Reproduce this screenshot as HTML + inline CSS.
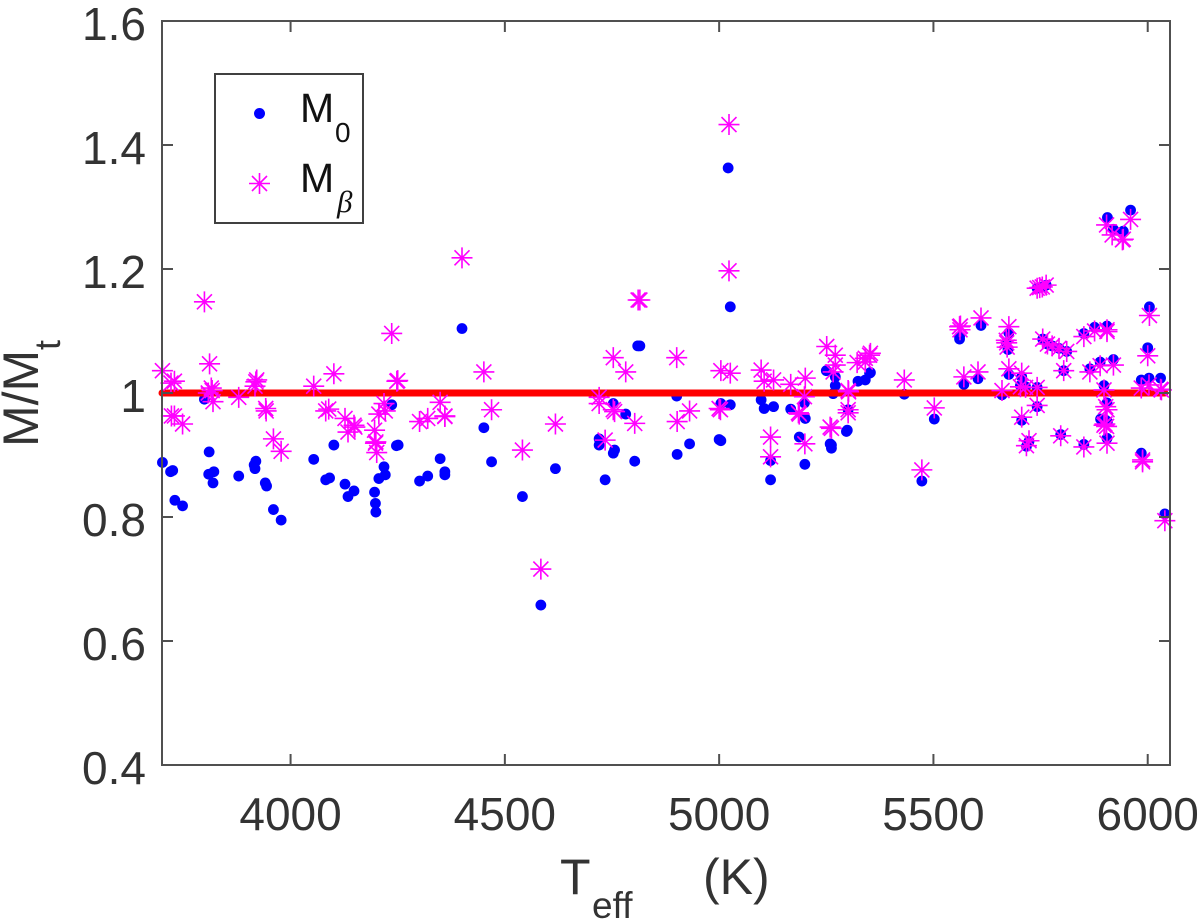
<!DOCTYPE html>
<html>
<head>
<meta charset="utf-8">
<title>M/Mt vs Teff</title>
<style>
html,body{margin:0;padding:0;background:#fff;width:1200px;height:922px;overflow:hidden}
svg{display:block}
text{font-family:"Liberation Sans",sans-serif}
</style>
</head>
<body>
<svg id="chart" width="1200" height="922" viewBox="0 0 1200 922" xmlns="http://www.w3.org/2000/svg">
  <rect x="0" y="0" width="1200" height="922" fill="#fff"/>
  <g id="m0-layer"></g>
  <g id="line-layer"></g>
  <g id="mb-layer"></g>
  <g id="axes-layer"></g>
  <g fill="#333">
    <text transform="translate(38,447) rotate(-90)" font-size="50">M/M</text>
    <text transform="translate(60,350) rotate(-90)" font-size="36">t</text>
  </g>
  <g fill="#333">
    <text x="560" y="894" font-size="50">T</text>
    <text x="592" y="918" font-size="37">eff</text>
    <text x="703" y="894" font-size="50">(K)</text>
  </g>
  <g>
    <rect x="215" y="74" width="148" height="149" fill="#fff" stroke="#404040" stroke-width="2"/>
    <circle cx="259.500" cy="113.500" r="5.500" fill="#0000ff"/>
    <g id="legend-star"></g>
    <text x="300" y="122" font-size="41" fill="#111">M</text>
    <text x="335" y="142" font-size="28" fill="#111">0</text>
    <text x="300" y="192" font-size="41" fill="#111">M</text>
    <text x="337" y="212" font-size="31" fill="#111" style="font-family:'Liberation Serif',serif;font-style:italic">β</text>
  </g>
</svg>
<script>
const xTicks = [4000, 4500, 5000, 5500, 6000];
const yTicks = [0.4, 0.6, 0.8, 1.0, 1.2, 1.4, 1.6];
const yTickLabels = ['0.4', '0.6', '0.8', '1', '1.2', '1.4', '1.6'];
const xDomain = [3700, 6052];
const yDomain = [0.4, 1.6];
const lineT = [3700, 6040];
const lineM = [1, 1];

const m0T = [3701,3720,3725,3730,3748,3810,3809,3821,3819,3799,3879,3919,3917,3915,3941,3944,3960,3978,
4054,4101,4082,4091,4127,4134,4148,4196,4198,4199,4218,4221,4206,4236,4247,4251,4301,4320,4349,4360,4360,
4400,4451,4469,4541,4584,4618,4734,4720,4720,4753,4782,4753,4756,4803,4810,4815,4901,4902,4931,5021,5026,
5000,5004,5004,5026,5098,5105,5127,5167,5187,5201,5199,5200,5120,5120,5250,5262,5262,5259,5271,5271,5266,
5301,5299,5297,5324,5341,5353,5351,5432,5502,5473,5561,5561,5611,5571,5604,5676,5670,5674,5676,5660,5706,
5703,5715,5742,5742,5706,5723,5717,5797,5851,5905,5890,5902,5906,5905,5898,5865,5889,5920,5804,5755,5766,
5777,5793,5811,5742,5754,5763,5851,5876,5905,5906,5920,5943,5941,5960,6004,6000,5985,6003,6030,5985,6040];
const m0Val = [0.888,0.873,0.875,0.827,0.818,0.905,0.869,0.873,0.855,0.990,0.866,0.890,0.878,0.884,0.855,0.850,0.812,0.795,
0.893,0.916,0.860,0.863,0.853,0.833,0.842,0.840,0.822,0.808,0.881,0.868,0.862,0.981,0.915,0.916,0.858,0.866,0.894,0.873,0.868,
1.104,0.944,0.889,0.833,0.658,0.878,0.860,0.926,0.916,0.983,0.966,0.903,0.908,0.890,1.076,1.076,0.995,0.901,0.918,1.363,1.139,
0.925,0.923,0.983,0.981,0.989,0.975,0.978,0.974,0.929,0.959,0.984,0.885,0.891,0.860,1.036,0.916,0.911,0.918,1.026,1.012,0.999,
0.973,0.940,0.938,1.019,1.021,1.033,1.032,0.998,0.958,0.858,1.087,1.091,1.109,1.014,1.023,1.097,1.081,1.070,1.030,0.997,1.026,
1.012,1.010,1.009,0.978,0.956,0.922,0.914,0.933,0.917,0.927,0.958,0.956,0.954,0.984,1.012,1.039,1.050,1.054,1.036,1.087,1.079,
1.076,1.072,1.067,1.169,1.171,1.174,1.096,1.106,1.108,1.283,1.264,1.261,1.260,1.295,1.139,1.073,1.021,1.024,1.024,0.903,0.805];

const mbT = [3799,3701,3721,3729,3811,3815,3817,3819,3808,3729,3722,3748,3879,3919,3917,3921,3942,3943,3960,3978,
4054,4101,4082,4089,4127,4134,4148,4150,4196,4198,4199,4201,4218,4221,4206,4236,4248,4250,4301,4320,4349,4360,4360,
4400,4451,4469,4541,4584,4618,4734,4720,4720,4753,4782,4753,4756,4803,4811,4815,4901,4902,4931,5000,5003,5004,5023,
5023,5026,5098,5105,5127,5167,5187,5185,5201,5199,5200,5120,5120,5251,5259,5262,5271,5271,5266,5301,5302,5301,5301,
5322,5341,5341,5353,5351,5432,5502,5473,5561,5562,5563,5611,5571,5604,5676,5670,5671,5672,5676,5660,5706,5703,5715,
5742,5742,5706,5723,5717,5797,5851,5905,5898,5904,5900,5905,5902,5898,5865,5889,5920,5804,5755,5766,5777,5793,5811,
5742,5748,5754,5763,5851,5876,5905,5905,5904,5917,5941,5943,5960,6004,6000,5985,6003,6030,6032,5988,5988,6040];
const mbVal = [1.147,1.036,1.016,1.019,1.047,1.008,1.004,0.986,1.000,0.963,0.963,0.950,0.993,1.018,1.011,1.021,0.975,0.971,0.926,0.906,
1.011,1.031,0.971,0.974,0.959,0.937,0.948,0.945,0.940,0.919,0.921,0.904,0.983,0.971,0.966,1.096,1.019,1.020,0.954,0.959,0.985,0.963,0.962,
1.218,1.034,0.973,0.908,0.716,0.950,0.924,0.993,0.983,1.057,1.034,0.973,0.970,0.951,1.150,1.150,1.057,0.954,0.971,0.975,0.973,1.036,1.433,
1.197,1.032,1.037,1.019,1.021,1.014,0.966,0.968,1.024,0.994,0.918,0.929,0.897,1.075,0.945,0.943,1.061,1.045,1.034,1.004,1.002,0.973,0.968,
1.049,1.050,1.056,1.064,1.061,1.021,0.976,0.876,1.107,1.102,1.108,1.121,1.026,1.034,1.107,1.085,1.081,1.074,1.039,1.004,1.032,1.010,1.009,
1.009,0.980,0.961,0.923,0.915,0.931,0.913,0.919,0.948,0.946,0.950,0.973,0.978,1.005,1.034,1.044,1.045,1.036,1.087,1.079,1.076,1.072,1.067,
1.169,1.170,1.171,1.174,1.091,1.100,1.099,1.102,1.271,1.255,1.247,1.248,1.280,1.125,1.060,1.008,1.013,1.006,1.005,0.889,0.892,0.794];

const NS = 'http://www.w3.org/2000/svg';
const plot = {left: 162, right: 1170, top: 21, bottom: 765};
function xScale(t) { return plot.left + (t - xDomain[0]) * (plot.right - plot.left) / (xDomain[1] - xDomain[0]); }
function yScale(v) { return plot.bottom - (v - yDomain[0]) * (plot.bottom - plot.top) / (yDomain[1] - yDomain[0]); }
function mk(tag, attrs, parent) {
  const el = document.createElementNS(NS, tag);
  for (const k in attrs) el.setAttribute(k, attrs[k]);
  parent.appendChild(el);
  return el;
}
function starPath(cx, cy) {
  const r = 10.5, d = 7.5;
  return 'M' + (cx - r) + ' ' + cy + 'H' + (cx + r) +
    'M' + cx + ' ' + (cy - r) + 'V' + (cy + r) +
    'M' + (cx - d) + ' ' + (cy - d) + 'L' + (cx + d) + ' ' + (cy + d) +
    'M' + (cx - d) + ' ' + (cy + d) + 'L' + (cx + d) + ' ' + (cy - d);
}

const m0Layer = document.getElementById('m0-layer');
m0T.forEach(function (t, i) {
  const c = mk('circle', {cx: xScale(t), cy: yScale(m0Val[i]), r: 5.4, fill: '#0000ff'}, m0Layer);
  
  
});

const lineLayer = document.getElementById('line-layer');
const refLine = mk('line', {x1: xScale(lineT[0]), y1: yScale(lineM[0]), x2: xScale(lineT[1]), y2: yScale(lineM[1]),
  stroke: '#ff0000', 'stroke-width': 7, 'stroke-linecap': 'round'}, lineLayer);



const mbLayer = document.getElementById('mb-layer');
mbT.forEach(function (t, i) {
  const p = mk('path', {d: starPath(xScale(t), yScale(mbVal[i])), stroke: '#ff00ff', 'stroke-width': 1.6, fill: 'none'}, mbLayer);
  
  
});

const legendStar = document.getElementById('legend-star');
const ls = mk('path', {d: starPath(259.5, 183.5), stroke: '#ff00ff', 'stroke-width': 1.6, fill: 'none'}, legendStar);



const axes = document.getElementById('axes-layer');
const frame = mk('rect', {x: plot.left, y: plot.top, width: plot.right - plot.left, height: plot.bottom - plot.top,
  fill: 'none', stroke: '#505050', 'stroke-width': 2}, axes);



xTicks.forEach(function (t) {
  const x = xScale(t);
  const b = mk('line', {x1: x, x2: x, y1: plot.bottom, y2: plot.bottom - 11, stroke: '#505050', 'stroke-width': 2}, axes);
  
  
  const u = mk('line', {x1: x, x2: x, y1: plot.top, y2: plot.top + 11, stroke: '#505050', 'stroke-width': 2}, axes);
  
  
  const l = mk('text', {x: x, y: 830, 'text-anchor': 'middle', 'font-size': 46, fill: '#333'}, axes);
  
  
  l.textContent = String(t);
});

yTicks.forEach(function (v, i) {
  const y = yScale(v);
  const a = mk('line', {x1: plot.left, x2: plot.left + 11, y1: y, y2: y, stroke: '#505050', 'stroke-width': 2}, axes);
  
  
  const b = mk('line', {x1: plot.right, x2: plot.right - 11, y1: y, y2: y, stroke: '#505050', 'stroke-width': 2}, axes);
  
  
  const l = mk('text', {x: 146, y: y + 19, 'text-anchor': 'end', 'font-size': 46, fill: '#333'}, axes);
  
  
  l.textContent = yTickLabels[i];
});
</script>
</body>
</html>
